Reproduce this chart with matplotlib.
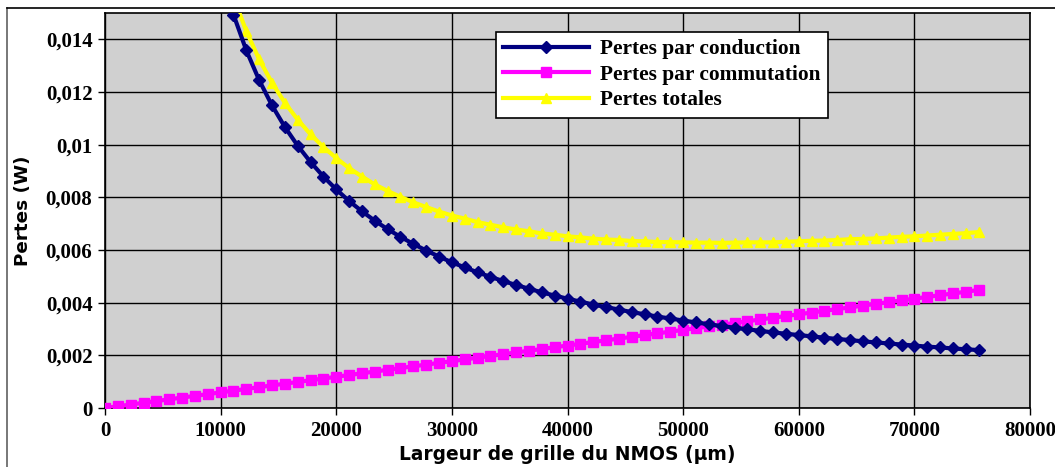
import matplotlib
matplotlib.use("Agg")
import matplotlib.pyplot as plt
from matplotlib.ticker import FuncFormatter, MultipleLocator
from matplotlib.lines import Line2D

# Data
largeur = [0, 1111, 2222, 3333, 4444, 5556, 6667, 7778, 8889, 10000,
           11111, 12222, 13333, 14444, 15556, 16667, 17778, 18889, 20000, 21111,
           22222, 23333, 24444, 25556, 26667, 27778, 28889, 30000, 31111, 32222,
           33333, 34444, 35556, 36667, 37778, 38889, 40000, 41111, 42222, 43333,
           44444, 45556, 46667, 47778, 48889, 50000, 51111, 52222, 53333, 54444,
           55556, 56667, 57778, 58889, 60000, 61111, 62222, 63333, 64444, 65556,
           66667, 67778, 68889, 70000, 71111, 72222, 73333, 74444, 75556]

conduction = [0.01494, 0.01358, 0.01245, 0.01149, 0.01067, 0.00996, 0.00934, 0.00879,
              0.00830, 0.00786, 0.00747, 0.00711, 0.00679, 0.00650, 0.00623, 0.00598,
              0.00575, 0.00553, 0.00534, 0.00515, 0.00498, 0.00482, 0.00467, 0.00453,
              0.00439, 0.00427, 0.00415, 0.00404, 0.00393, 0.00383, 0.00374, 0.00364,
              0.00356, 0.00347, 0.00340, 0.00332, 0.00325, 0.00318, 0.00311, 0.00305,
              0.00299, 0.00293, 0.00287, 0.00282, 0.00277, 0.00272, 0.00267, 0.00262,
              0.00258, 0.00253, 0.00249, 0.00245, 0.00241, 0.00237, 0.00233, 0.00230,
              0.00226, 0.00223, 0.00220]

commutation = [0.0, 0.000066, 0.000132, 0.000198, 0.000264, 0.000330, 0.000395, 0.000461,
               0.000527, 0.000593, 0.000659, 0.000725, 0.000791, 0.000857, 0.000923,
               0.000989, 0.001054, 0.001120, 0.001186, 0.001252, 0.001318, 0.001384,
               0.001450, 0.001516, 0.001582, 0.001648, 0.001713, 0.001779, 0.001845,
               0.001911, 0.001977, 0.002043, 0.002109, 0.002175, 0.002241, 0.002307,
               0.002372, 0.002438, 0.002504, 0.002570, 0.002636, 0.002702, 0.002768,
               0.002834, 0.002900, 0.002966, 0.003031, 0.003097, 0.003163, 0.003229,
               0.003295, 0.003361, 0.003427, 0.003493, 0.003559, 0.003625, 0.003690,
               0.003756, 0.003822, 0.003888, 0.003954, 0.004020, 0.004086, 0.004152,
               0.004218, 0.004284, 0.004349, 0.004415, 0.004481]

totales = [0.01560, 0.01431, 0.01324, 0.01235, 0.01159, 0.01095, 0.01039, 0.00991,
           0.00949, 0.00911, 0.00879, 0.00849, 0.00824, 0.00802, 0.00781, 0.00763,
           0.00746, 0.00731, 0.00719, 0.00706, 0.00696, 0.00686, 0.00678, 0.00671,
           0.00663, 0.00658, 0.00652, 0.00648, 0.00643, 0.00640, 0.00638, 0.00634,
           0.00633, 0.00630, 0.00630, 0.00629, 0.00628, 0.00628, 0.00627, 0.00628,
           0.00629, 0.00629, 0.00629, 0.00631, 0.00633, 0.00635, 0.00636, 0.00638,
           0.00641, 0.00642, 0.00644, 0.00647, 0.00650, 0.00652, 0.00655, 0.00658,
           0.00661, 0.00664, 0.00668]

debut = len(largeur) - len(conduction)
x_cond = largeur[debut:]

series_labels = ["Pertes par conduction", "Pertes par commutation", "Pertes totales"]

fig = plt.figure(figsize=(10.55, 4.67), dpi=100)
ax = fig.add_axes([105 / 1055, 1 - 408 / 467, 925 / 1055, 395 / 467])
ax.set_facecolor("#D0D0D0")

ax.plot(x_cond, conduction, color="#000080", lw=3, marker="D", ms=6,
        label=series_labels[0], zorder=4)
ax.plot(largeur, commutation, color="#FF00FF", lw=3, marker="s", ms=7.5,
        label=series_labels[1], zorder=3)
ax.plot(x_cond, totales, color="#FFFF00", lw=3, marker="^", ms=7.5,
        label=series_labels[2], zorder=3)

ax.set_xlim(0, 80000)
ax.set_ylim(0, 0.015)
ax.xaxis.set_major_locator(MultipleLocator(10000))
ax.set_yticks([0, 0.002, 0.004, 0.006, 0.008, 0.010, 0.012, 0.014])

def yfmt(v, pos):
    if abs(v) < 1e-12:
        return "0"
    s = ("%.3f" % v).rstrip("0")
    return s.replace(".", ",")

ax.yaxis.set_major_formatter(FuncFormatter(yfmt))
ax.xaxis.set_major_formatter(FuncFormatter(lambda v, p: "%d" % round(v)))

ax.grid(True, color="black", lw=1.0, zorder=1)
ax.set_axisbelow(True)
for sp in ax.spines.values():
    sp.set_color("black")
    sp.set_linewidth(1.2)

ax.tick_params(axis="both", direction="out", length=5, width=1, color="black", pad=4)
for lab in ax.get_xticklabels() + ax.get_yticklabels():
    lab.set_fontfamily("Liberation Serif")
    lab.set_fontweight("bold")
    lab.set_fontsize(15)

ax.set_xlabel("Largeur de grille du NMOS (µm)", fontsize=13.4, fontweight="bold",
              family="DejaVu Sans", labelpad=3)
ax.set_ylabel("Pertes (W)", fontsize=13.2, fontweight="bold", family="DejaVu Sans",
              labelpad=10)

leg = ax.legend(loc="upper left", bbox_to_anchor=((496 - 105) / 925, (408 - 32) / 395),
                prop=dict(family="Liberation Serif", weight="bold", size=15.4),
                frameon=True, fancybox=False, edgecolor="black", facecolor="white",
                framealpha=1, borderpad=0.35, labelspacing=0.25, handlelength=4.0,
                handletextpad=0.5, borderaxespad=0)
leg.get_frame().set_linewidth(1.2)
leg.set_zorder(6)

# Outer chart border (top and left visible)
fig.add_artist(Line2D([7 / 1055, 7 / 1055], [0, 1 - 8 / 467], color="#606060", lw=1.2))
fig.add_artist(Line2D([7 / 1055, 1], [1 - 8 / 467, 1 - 8 / 467], color="black", lw=1.2))

fig.savefig("out.png", dpi=100)
